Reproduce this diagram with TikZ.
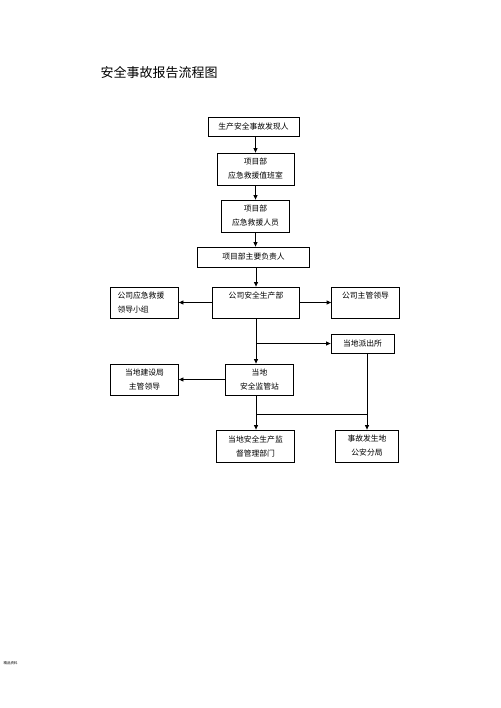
\documentclass[tikz,border=0pt]{standalone}
\usepackage{fontspec}
\newfontfamily\cjk{Noto Sans CJK SC}
\usetikzlibrary{arrows.meta,positioning,calc}

\begin{document}
\begin{tikzpicture}
    [x=1pt, y=-1pt,
    node distance=45pt,
    thick,
    block/.style={draw, inner sep=0pt, align=center, font=\cjk\fontsize{7.8}{14}\selectfont},
    arr/.style={-{Triangle[length=4.5pt,width=4pt]}}]
        \useasboundingbox (0,0) rectangle (500,708);
        %% title
        \node[anchor=west, font=\cjk\fontsize{13}{13}\selectfont] (T) at (97,73) {安全事故报告流程图};
        \node[anchor=west, font=\cjk\fontsize{3.5}{3.5}\selectfont] (ft) at (0,663) {精品资料};
        %% main column
        \node[block, minimum width=91pt, minimum height=19pt] (B1) at (253.5,126.5) {生产安全事故发现人};
        \node[block, below of = B1, node distance=42.5pt, xshift=2pt, minimum width=77pt, minimum height=32pt] (B2) {项目部\\应急救援值班室};
        \node[block, below of = B2, node distance=47pt, minimum width=68pt, minimum height=32pt] (B3) {项目部\\应急救援人员};
        \node[block, below of = B3, node distance=41pt, xshift=-2pt, minimum width=112pt, minimum height=20pt] (B4) {项目部主要负责人};
        \node[block, below of = B4, node distance=45.5pt, xshift=2.5pt, minimum width=87pt, minimum height=31pt] (B5) {公司安全生产部\\~};
        \node[block, left of = B5, node distance=111.5pt, minimum width=68pt, minimum height=31pt, text width=54pt, align=left] (L1) {公司应急救援\\领导小组};
        \node[block, right of = B5, node distance=109.5pt, minimum width=68pt, minimum height=31pt] (R1) {公司主管领导\\~};
        \node[block, minimum width=63pt, minimum height=19pt] (P) at (362.5,343.5) {当地派出所};
        \node[block, below of = B5, node distance=77pt, xshift=3.5pt, minimum width=68pt, minimum height=31pt] (S) {当地\\安全监管站};
        \node[block, left of = S, node distance=115pt, minimum width=68pt, minimum height=31pt] (L2) {当地建设局\\主管领导};
        \node[block, below of = S, node distance=66.5pt, xshift=-4pt, minimum width=78pt, minimum height=32pt] (D1) {当地安全生产监\\督管理部门};
        \node[block, right of = D1, node distance=111.5pt, minimum width=63pt, minimum height=32pt] (D2) {事故发生地\\公安分局};

        \coordinate (J1) at (B5.south |- P.west);
        \coordinate (J2) at ($(B5.south |- S.south)!0.55!(B5.south |- D1.north)$);

        \draw[arr] (B2 |- B1.south) to (B2.north);
        \draw[arr] (B2.south) to (B2.south |- B3.north);
        \draw[arr] (B3.south) to (B3.south |- B4.north);
        \draw[arr] (B5 |- B4.south) to (B5.north);
        \draw[arr] (B5.west) to (L1.east);
        \draw[arr] (B5.east) to (R1.west);
        \draw[arr] (B5.south) to (B5.south |- S.north);
        \draw[arr] (J1) to (P.west);
        \draw[arr] (S.west) to (L2.east);
        \draw[arr] (B5.south |- S.south) to (B5.south |- D1.north);
        \draw[arr] (D2 |- P.south) to (D2.north);
        \draw (J2) to (J2 -| D2);
    \end{tikzpicture}
\end{document}
